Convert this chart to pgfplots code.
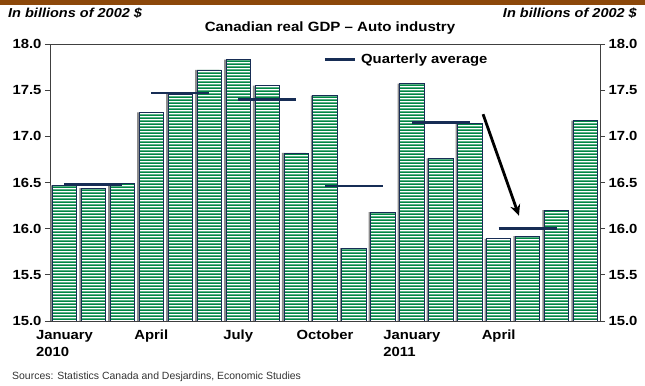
\documentclass[border=0pt]{standalone}
\usepackage{fontspec}
\setmainfont{Liberation Sans}
\newfontfamily\widefont{Liberation Sans}[FakeStretch=1.12]
\usepackage{pgfplots}
\pgfplotsset{compat=1.18}
\usetikzlibrary{patterns,arrows.meta}
\definecolor{bargreen}{RGB}{0,135,68}
\definecolor{navy}{RGB}{23,45,85}
\definecolor{brownband}{RGB}{140,72,10}
\pgfdeclarepatternformonly{hstripes}{\pgfpoint{0bp}{0bp}}{\pgfpoint{200bp}{3bp}}{\pgfpoint{200bp}{3bp}}{%
  \pgfpathrectangle{\pgfpoint{-1bp}{0bp}}{\pgfpoint{202bp}{2.05bp}}\pgfusepath{fill}}
\begin{document}
\begin{tikzpicture}
\path[use as bounding box] (-50bp,-65bp) rectangle (595bp,321bp);
\pgfplotsset{
  common/.style={
    scale only axis, width=550bp, height=277bp,
    at={(0,0)}, anchor=south west,
    xmin=-0.5, xmax=18.5, ymin=15, ymax=18,
    ytick={15,15.5,16,16.5,17,17.5,18},
    yticklabel style={font=\fontsize{13.3}{15}\widefont\bfseries,
      /pgf/number format/.cd, fixed, fixed zerofill, precision=1, assume math mode=true},
    tick align=outside, major tick length=5bp,
    axis line style={black!75, line width=0.9bp},
    major tick style={black!75, line width=0.9bp},
  }
}
\begin{axis}[common,
  xtick={0,3,6,9,12,15},
  xticklabels={{January\\2010},April,July,October,{January\\2011},April},
  xticklabel style={font=\fontsize{13.3}{17}\widefont\bfseries, align=left, anchor=north, yshift=-0.5bp},
  major x tick style={draw=none},
  ytick pos=left,
  legend style={draw=none, fill=none, at={(axis cs:8.95,17.83)}, anchor=west,
    font=\fontsize{13.3}{15}\widefont\bfseries, inner sep=0pt},
  legend cell align=left,
  legend image code/.code={\draw[#1, line width=2.4bp] (0bp,0bp) -- (30bp,0bp); \path (33bp,0bp);},
]
\addplot[ybar, bar width=0.84, bar shift=-2bp, fill=black!45, draw=none, forget plot]
  coordinates {(0,16.47)(1,16.44)(2,16.49)(3,17.26)(4,17.46)(5,17.72)(6,17.83)(7,17.55)(8,16.82)(9,17.44)(10,15.79)(11,16.18)(12,17.57)(13,16.76)(14,17.14)(15,15.89)(16,15.92)(17,16.20)(18,17.17)};
\addplot[ybar, bar width=0.84, bar shift=0pt, fill=white, draw=navy, line width=0.7bp,
  postaction={pattern=hstripes, pattern color=bargreen}, forget plot]
  coordinates {(0,16.47)(1,16.44)(2,16.49)(3,17.26)(4,17.46)(5,17.72)(6,17.83)(7,17.55)(8,16.82)(9,17.44)(10,15.79)(11,16.18)(12,17.57)(13,16.76)(14,17.14)(15,15.89)(16,15.92)(17,16.20)(18,17.17)};
\addplot[navy, line width=2.4bp, unbounded coords=jump] coordinates {
  (0,16.48)(2,16.48)(2,nan)
  (3,17.47)(5,17.47)(5,nan)
  (6,17.40)(8,17.40)(8,nan)
  (9,16.46)(11,16.46)(11,nan)
  (12,17.15)(14,17.15)(14,nan)
  (15,16.00)(17,16.00)};
\addlegendentry{Quarterly average}
\addplot[black, line width=2.8bp, -{Stealth[length=11bp,width=10bp]}, forget plot]
  coordinates {(14.46,17.24)(15.7,16.14)};
\end{axis}
\begin{axis}[common,
  axis x line=none, axis y line*=right,
  ytick pos=right,
]
\end{axis}
\fill[brownband] (-50bp,316bp) rectangle (595bp,321bp);
\node[anchor=west, font=\fontsize{13}{14}\widefont\bfseries\itshape, inner sep=0pt] at (-42bp,308bp) {In billions of 2002 \$};
\node[anchor=east, font=\fontsize{13}{14}\widefont\bfseries\itshape, inner sep=0pt] at (587bp,308bp) {In billions of 2002 \$};
\node[font=\fontsize{13.5}{15}\widefont\bfseries, inner sep=0pt] at (280bp,293bp) {Canadian real GDP – Auto industry};
\node[anchor=west, font=\fontsize{10.5}{12}\selectfont, text=black!80, inner sep=0pt] at (-38bp,-56bp) {Sources: Statistics Canada and Desjardins, Economic Studies};
\end{tikzpicture}
\end{document}
